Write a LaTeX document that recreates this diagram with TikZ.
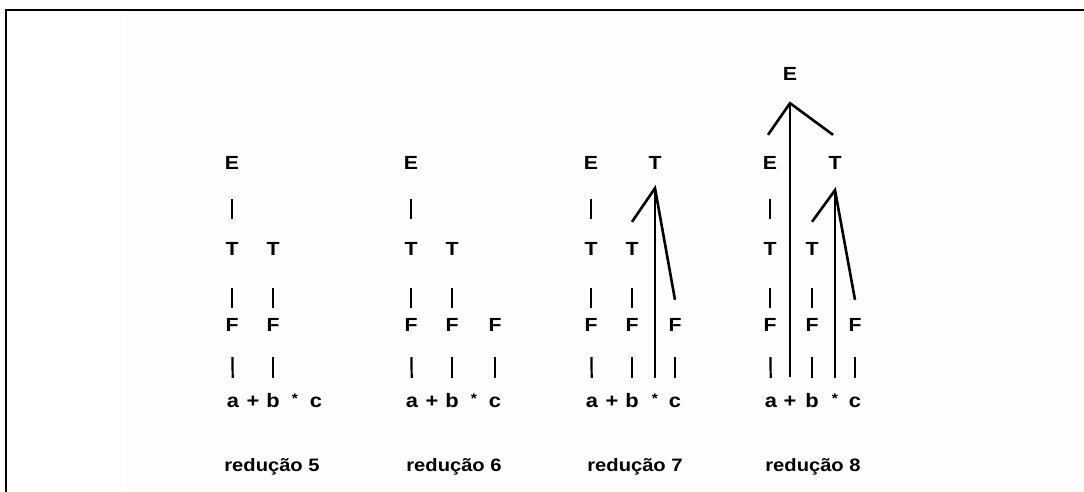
\documentclass[tikz,border=0pt]{standalone}
\usepackage{fontspec}
\setmainfont{Liberation Sans}
\usetikzlibrary{calc}
\definecolor{paper}{RGB}{253,253,253}
% letters in this figure are set slightly wide
\newcommand{\wide}[1]{\scalebox{1.12}[1]{#1}}

\begin{document}
\begin{tikzpicture}[x=1pt,y=-1pt,
  sym/.style={inner sep=0pt, anchor=base, text height=12pt, text depth=0pt,
              font=\bfseries\fontsize{19}{22}\selectfont},
  tok/.style={inner sep=0pt, anchor=base, text height=12pt, text depth=0pt,
              font=\bfseries\fontsize{19.5}{22}\selectfont},
  ast/.style={tok, font=\bfseries\fontsize{14}{16}\selectfont},
  lab/.style={inner sep=0pt, anchor=base, font=\bfseries\fontsize{18}{20}\selectfont},
  barET/.style={line width=2.2pt, shorten <=30pt, shorten >=24pt},
  barTF/.style={line width=2.2pt, shorten <=33pt, shorten >=11pt},
  barFa/.style={line width=2.2pt, shorten <=26pt, shorten >=17pt},
  branch/.style={line width=2.6pt},
  stem/.style={line width=1.5pt},
  frameline/.style={line width=2.2pt}
]
\useasboundingbox (0,0) rectangle (1084,492);
\fill[paper] (125,11) rectangle (1084,492);
\draw[frameline] (6,492) -- (6,10) -- (1084,10);

% ---------- reduction 5 ----------
\begin{scope}[shift={(232,0)}]
  \node[sym] (p1e)  at (0,169)  {\wide{E}};
  \node[sym] (p1ta) at (0,255)  {\wide{T}};
  \node[sym] (p1tb) at (41,255) {\wide{T}};
  \node[sym] (p1fa) at (0,331)  {\wide{F}};
  \node[sym] (p1fb) at (41,331) {\wide{F}};
  \node[tok] (p1a)  at (1,407)  {\wide{a}};
  \node[tok] (p1p)  at (21,407) {\wide{+}};
  \node[tok] (p1b)  at (41,407) {\wide{b}};
  \node[ast] (p1s)  at (63,403) {\wide{*}};
  \node[tok] (p1c)  at (84,407) {\wide{c}};
  \node[lab] (p1l)  at (40,471) {\wide{redução 5}};
  \draw[barET] (p1e)  -- (p1ta);
  \draw[barTF] (p1ta) -- (p1fa);
  \draw[barTF] (p1tb) -- (p1fb);
  \draw[barFa] (p1fa) -- (p1a);
  \draw[barFa] (p1fb) -- (p1b);
\end{scope}

% ---------- reduction 6 ----------
\begin{scope}[shift={(411,0)}]
  \node[sym] (p2e)  at (0,169)  {\wide{E}};
  \node[sym] (p2ta) at (0,255)  {\wide{T}};
  \node[sym] (p2tb) at (41,255) {\wide{T}};
  \node[sym] (p2fa) at (0,331)  {\wide{F}};
  \node[sym] (p2fb) at (41,331) {\wide{F}};
  \node[sym] (p2fc) at (84,331) {\wide{F}};
  \node[tok] (p2a)  at (1,407)  {\wide{a}};
  \node[tok] (p2p)  at (21,407) {\wide{+}};
  \node[tok] (p2b)  at (41,407) {\wide{b}};
  \node[ast] (p2s)  at (63,403) {\wide{*}};
  \node[tok] (p2c)  at (84,407) {\wide{c}};
  \node[lab] (p2l)  at (43,471) {\wide{redução 6}};
  \draw[barET] (p2e)  -- (p2ta);
  \draw[barTF] (p2ta) -- (p2fa);
  \draw[barTF] (p2tb) -- (p2fb);
  \draw[barFa] (p2fa) -- (p2a);
  \draw[barFa] (p2fb) -- (p2b);
  \draw[barFa] (p2fc) -- (p2c);
\end{scope}

% ---------- reduction 7 ----------
\begin{scope}[shift={(591,0)}]
  \node[sym] (p3e)  at (0,169)  {\wide{E}};
  \node[sym] (p3tt) at (64,169) {\wide{T}};
  \node[sym] (p3ta) at (0,255)  {\wide{T}};
  \node[sym] (p3tb) at (41,255) {\wide{T}};
  \node[sym] (p3fa) at (0,331)  {\wide{F}};
  \node[sym] (p3fb) at (41,331) {\wide{F}};
  \node[sym] (p3fc) at (84,331) {\wide{F}};
  \node[tok] (p3a)  at (1,407)  {\wide{a}};
  \node[tok] (p3p)  at (21,407) {\wide{+}};
  \node[tok] (p3b)  at (41,407) {\wide{b}};
  \node[ast] (p3s)  at (64,403) {\wide{*}};
  \node[tok] (p3c)  at (84,407) {\wide{c}};
  \node[lab] (p3l)  at (44,471) {\wide{redução 7}};
  \draw[barET] (p3e)  -- (p3ta);
  \draw[barTF] (p3ta) -- (p3fa);
  \draw[barTF] (p3tb) -- (p3fb);
  \draw[barFa] (p3fa) -- (p3a);
  \draw[barFa] (p3fb) -- (p3b);
  \draw[barFa] (p3fc) -- (p3c);
  % T -> T * F
  \coordinate (p3apex) at ($(p3tt.south)+(0,19)$);
  \coordinate (p3lend) at ($(p3tb.north)+(0,-21)$);
  \coordinate (p3rend) at ($(p3fc.north)+(0,-19)$);
  \coordinate (p3send) at ($(p3s.north)+(0,-13)$);
  \draw[branch] (p3lend) -- (p3apex) -- (p3rend);
  \draw[stem] (p3apex) -- (p3send);
\end{scope}

% ---------- reduction 8 ----------
\begin{scope}[shift={(770,0)}]
  \node[sym] (p4et) at (20,81)  {\wide{E}};
  \node[sym] (p4e)  at (0,169)  {\wide{E}};
  \node[sym] (p4tt) at (65,169) {\wide{T}};
  \node[sym] (p4ta) at (0,255)  {\wide{T}};
  \node[sym] (p4tb) at (42,255) {\wide{T}};
  \node[sym] (p4fa) at (0,331)  {\wide{F}};
  \node[sym] (p4fb) at (42,331) {\wide{F}};
  \node[sym] (p4fc) at (85,331) {\wide{F}};
  \node[tok] (p4a)  at (1,407)  {\wide{a}};
  \node[tok] (p4p)  at (20,407) {\wide{+}};
  \node[tok] (p4b)  at (42,407) {\wide{b}};
  \node[ast] (p4s)  at (65,403) {\wide{*}};
  \node[tok] (p4c)  at (85,407) {\wide{c}};
  \node[lab] (p4l)  at (43,471) {\wide{redução 8}};
  \draw[barET] (p4e)  -- (p4ta);
  \draw[barTF] (p4ta) -- (p4fa);
  \draw[barTF] (p4tb) -- (p4fb);
  \draw[barFa] (p4fa) -- (p4a);
  \draw[barFa] (p4fb) -- (p4b);
  \draw[barFa] (p4fc) -- (p4c);
  % E -> E + T
  \coordinate (p4apx1) at ($(p4et.south)+(0,22)$);
  \coordinate (p4lnd1) at ($(p4e.north)+(-2,-22)$);
  \coordinate (p4rnd1) at ($(p4tt.north)+(-2,-22)$);
  \coordinate (p4pend) at ($(p4p.north)+(0,-18)$);
  \draw[branch] (p4lnd1) -- (p4apx1) -- (p4rnd1);
  \draw[stem] (p4apx1) -- (p4pend);
  % T -> T * F
  \coordinate (p4apx2) at ($(p4tt.south)+(0,21)$);
  \coordinate (p4lnd2) at ($(p4tb.north)+(0,-21)$);
  \coordinate (p4rnd2) at ($(p4fc.north)+(0,-19)$);
  \coordinate (p4send) at ($(p4s.north)+(0,-13)$);
  \draw[branch] (p4lnd2) -- (p4apx2) -- (p4rnd2);
  \draw[stem] (p4apx2) -- (p4send);
\end{scope}
\end{tikzpicture}
\end{document}
